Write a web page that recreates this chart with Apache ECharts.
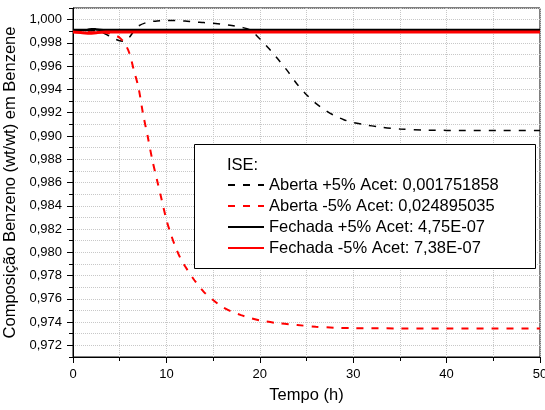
<!DOCTYPE html>
<html>
<head>
<meta charset="utf-8">
<script src="https://cdn.jsdelivr.net/npm/echarts@6/dist/echarts.min.js"></script>
<style>html,body{margin:0;padding:0;background:#fff}#c{width:545px;height:410px}</style>
</head>
<body>
<div id="c"></div>
<script>
// ---- data ----
var tAbertaMais = [0, 1, 2, 3, 4, 5, 5.5, 6, 6.5, 7, 8, 9, 10, 11, 12, 13, 14, 15, 16, 17, 18, 19, 20, 21, 22, 23, 24, 25, 26, 27, 28, 29, 30, 31, 33, 35, 38, 42, 46, 50];
var vAbertaMais = [0.9990, 0.9990, 0.99905, 0.99895, 0.99855, 0.99818, 0.99815, 0.99845, 0.99900, 0.99945, 0.99978, 0.99988, 0.99992, 0.99992, 0.99988, 0.99980, 0.99975, 0.99968, 0.99960, 0.99950, 0.99935, 0.99910, 0.99835, 0.99750, 0.99655, 0.99555, 0.99445, 0.99355, 0.99280, 0.99222, 0.99175, 0.99140, 0.99115, 0.99100, 0.99075, 0.99060, 0.99050, 0.99047, 0.99046, 0.99046];

var tAbertaMenos = [0, 1, 2, 3, 4, 4.5, 5, 5.5, 6, 6.5, 7, 7.5, 8, 8.5, 9, 9.5, 10, 10.5, 11, 11.5, 12, 13, 14, 15, 16, 17, 18, 19, 20, 22, 24, 26, 28, 30, 35, 40, 45, 50];
var vAbertaMenos = [0.9990, 0.9990, 0.99890, 0.99895, 0.99880, 0.99865, 0.99845, 0.99800, 0.99720, 0.99570, 0.99420, 0.99190, 0.98995, 0.98790, 0.98620, 0.98450, 0.98280, 0.98150, 0.98040, 0.97950, 0.97880, 0.97760, 0.97660, 0.97590, 0.97530, 0.97490, 0.97460, 0.97435, 0.97415, 0.97390, 0.97375, 0.97360, 0.97352, 0.97348, 0.97346, 0.97346, 0.97346, 0.97346];

var tFechadaMais = [0, 1.5, 2, 2.5, 3.5, 50];
var vFechadaMais = [0.99911, 0.99911, 0.99918, 0.99916, 0.99911, 0.99911];

var tFechadaMenos = [0, 1, 1.8, 2.5, 3.5, 50];
var vFechadaMenos = [0.99893, 0.99888, 0.99882, 0.99888, 0.99893, 0.99893];

var seriesNames = ['Aberta +5% Acet: 0,001751858', 'Aberta -5% Acet: 0,024895035', 'Fechada +5% Acet: 4,75E-07', 'Fechada -5% Acet: 7,38E-07'];
var yTickLabels = [0.972, 0.974, 0.976, 0.978, 0.980, 0.982, 0.984, 0.986, 0.988, 0.990, 0.992, 0.994, 0.996, 0.998, 1.000];
var xTickLabels = [0, 10, 20, 30, 40, 50];

function pairs(t, v) { return t.map(function (x, i) { return [x, v[i]]; }); }

var FONT = '"Liberation Sans", Arial, sans-serif';
var chart = echarts.init(document.getElementById('c'), null, { renderer: 'canvas' });

var option = {
  backgroundColor: '#fff',
  animation: false,
  grid: { left: 73, right: 5, top: 8, bottom: 53, containLabel: false, outerBoundsMode: 'none',
          show: true, borderColor: '#000', borderWidth: 1, backgroundColor: 'transparent' },
  xAxis: [
    {
      type: 'value', min: 0, max: 50, interval: 5,
      axisLine: { show: true, lineStyle: { color: '#000', width: 1 } },
      axisTick: { show: true, length: 4, lineStyle: { color: '#000' } },
      axisLabel: { show: false },
      splitLine: { show: true, lineStyle: { color: '#c8c8c8', type: 'dotted', width: 1 } }
    },
    {
      type: 'value', min: 0, max: 50, interval: 10, position: 'bottom',
      name: 'Tempo (h)', nameLocation: 'middle', nameGap: 30,
      nameTextStyle: { fontFamily: FONT, fontSize: 16.5, color: '#000' },
      axisLine: { show: false },
      axisTick: { show: true, length: 6, lineStyle: { color: '#000' } },
      axisLabel: { show: true, margin: 11, fontFamily: FONT, fontSize: 13, color: '#000',
        alignMinLabel: 'center', alignMaxLabel: 'center', hideOverlap: false,
        formatter: function (v) { return xTickLabels.indexOf(v) >= 0 ? String(v) : ''; } },
      splitLine: { show: false }
    }
  ],
  yAxis: [
    {
      type: 'value', min: 0.971, max: 1.001, interval: 0.001,
      axisLine: { show: true, lineStyle: { color: '#000', width: 1 } },
      axisTick: { show: true, length: 4, lineStyle: { color: '#000' } },
      axisLabel: { show: false },
      splitLine: { show: true, lineStyle: { color: '#c8c8c8', type: 'dotted', width: 1 } }
    },
    {
      type: 'value', min: 0.971, max: 1.001, interval: 0.001, position: 'left',
      name: 'Composição Benzeno (wt/wt) em Benzene', nameLocation: 'middle', nameGap: 47,
      nameTextStyle: { fontFamily: FONT, fontSize: 16.5, color: '#000' },
      axisLine: { show: false },
      axisTick: { show: true, length: 6, lineStyle: { color: '#000' }, customValues: yTickLabels },
      axisLabel: { show: true, margin: 11, fontFamily: FONT, fontSize: 13, color: '#000', customValues: yTickLabels,
        formatter: function (v) {
          var k = Math.round(v * 1000);
          if (k % 2 !== 0) return '';
          return (k / 1000).toFixed(3).replace('.', ',');
        } },
      splitLine: { show: false }
    }
  ],
  legend: {
    show: true, orient: 'vertical', left: 227, top: 176, padding: 0,
    itemWidth: 36, itemHeight: 14, itemGap: 3,
    itemStyle: { opacity: 0, borderWidth: 0 },
    textStyle: { fontFamily: FONT, fontSize: 16.5, color: '#000', lineHeight: 18 },
    data: seriesNames, z: 20
  },
  graphic: [
    { type: 'rect', z: 10, shape: { x: 194.5, y: 144.5, width: 341, height: 124 }, style: { fill: '#fff', stroke: '#000', lineWidth: 1 } },
    { type: 'text', z: 11, x: 227, y: 165, style: { text: 'ISE:', font: '16.5px ' + FONT, fill: '#000', verticalAlign: 'middle' } }
  ],
  series: [
    { name: seriesNames[0], type: 'line', xAxisIndex: 0, yAxisIndex: 0, symbol: 'none', smooth: 0.3, z: 3,
      data: pairs(tAbertaMais, vAbertaMais), lineStyle: { color: '#000', width: 1.5, type: [7, 8] }, itemStyle: { color: '#000' } },
    { name: seriesNames[1], type: 'line', xAxisIndex: 0, yAxisIndex: 0, symbol: 'none', smooth: 0.3, z: 3,
      data: pairs(tAbertaMenos, vAbertaMenos), lineStyle: { color: '#ff0000', width: 2, type: [7, 8] }, itemStyle: { color: '#ff0000' } },
    { name: seriesNames[2], type: 'line', xAxisIndex: 0, yAxisIndex: 0, symbol: 'none', smooth: 0.3, z: 4,
      data: pairs(tFechadaMais, vFechadaMais), lineStyle: { color: '#000', width: 2.5 }, itemStyle: { color: '#000' } },
    { name: seriesNames[3], type: 'line', xAxisIndex: 0, yAxisIndex: 0, symbol: 'none', smooth: 0.3, z: 5,
      data: pairs(tFechadaMenos, vFechadaMenos), lineStyle: { color: '#ff0000', width: 3 }, itemStyle: { color: '#ff0000' } }
  ]
};
chart.setOption(option);
</script>
</body>
</html>
